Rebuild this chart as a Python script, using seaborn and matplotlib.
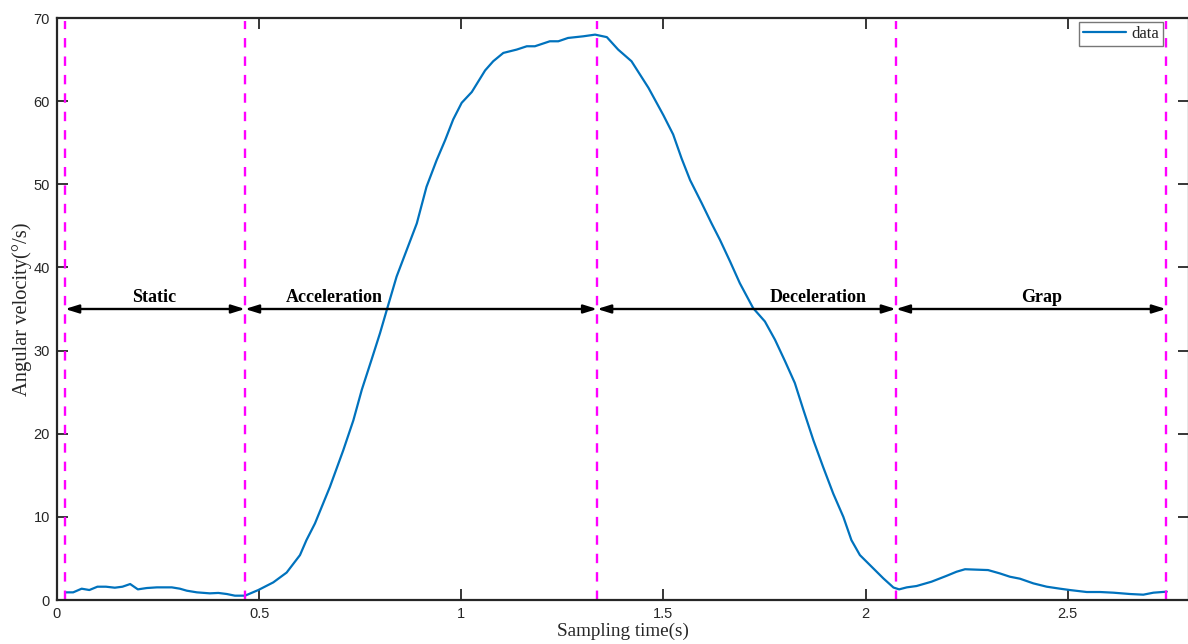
import matplotlib
matplotlib.use("Agg")
import matplotlib.pyplot as plt
import seaborn as sns
import pandas as pd

# ---- data ----
time_s = [0.022, 0.04, 0.061, 0.08, 0.10, 0.121, 0.143, 0.162, 0.181, 0.2,
          0.222, 0.247, 0.284, 0.304, 0.321, 0.346, 0.378, 0.399, 0.42, 0.44,
          0.465, 0.498, 0.535, 0.568, 0.601, 0.617, 0.638, 0.675, 0.708, 0.733,
          0.754, 0.778, 0.799, 0.817, 0.840, 0.865, 0.890, 0.914, 0.939, 0.960,
          0.980, 1.001, 1.026, 1.059, 1.079, 1.104, 1.137, 1.162, 1.182, 1.219,
          1.240, 1.264, 1.302, 1.331, 1.360, 1.388, 1.421, 1.463, 1.50, 1.524,
          1.545, 1.566, 1.595, 1.619, 1.640, 1.665, 1.689, 1.722, 1.751, 1.776,
          1.801, 1.825, 1.846, 1.871, 1.895, 1.920, 1.945, 1.965, 1.986, 2.015,
          2.044, 2.069, 2.083, 2.102, 2.126, 2.163, 2.20, 2.225, 2.246, 2.303,
          2.332, 2.357, 2.382, 2.415, 2.448, 2.481, 2.505, 2.547, 2.580, 2.613,
          2.654, 2.687, 2.712, 2.745]
velocity = [0.92, 0.92, 1.36, 1.2, 1.6, 1.6, 1.48, 1.6, 1.92, 1.28,
            1.44, 1.52, 1.52, 1.36, 1.12, 0.92, 0.8, 0.85, 0.72, 0.52,
            0.52, 1.2, 2.12, 3.3, 5.4, 7.2, 9.2, 13.6, 18.0, 21.6,
            25.3, 28.9, 32.1, 35.1, 38.9, 42.1, 45.3, 49.7, 52.9, 55.3,
            57.8, 59.8, 61.1, 63.7, 64.8, 65.8, 66.2, 66.6, 66.6, 67.2,
            67.2, 67.6, 67.8, 68.0, 67.7, 66.2, 64.8, 61.6, 58.3, 56.0,
            53.1, 50.5, 47.7, 45.3, 43.3, 40.7, 38.1, 35.1, 33.5, 31.3,
            28.7, 26.1, 22.9, 19.2, 16.0, 12.8, 10.0, 7.2, 5.4, 4.0,
            2.6, 1.5, 1.28, 1.52, 1.68, 2.2, 2.9, 3.4, 3.7, 3.6,
            3.2, 2.8, 2.56, 2.0, 1.6, 1.36, 1.2, 0.96, 0.96, 0.88,
            0.72, 0.64, 0.88, 1.0]

phase_bounds = [0.02, 0.465, 1.336, 2.075, 2.743]
phase_names = ["Static", "Acceleration", "Deceleration", "Grap"]
phase_label_x = [0.240, 0.685, 1.882, 2.436]
arrow_level = 35.0
label_level = 35.8

x_ticks = [0, 0.5, 1, 1.5, 2, 2.5]
x_tick_labels = ["0", "0.5", "1", "1.5", "2", "2.5"]
y_ticks = [0, 10, 20, 30, 40, 50, 60, 70]

df = pd.DataFrame({"Sampling time(s)": time_s, "Angular velocity": velocity})

sns.set_style("ticks")
plt.rcParams["font.family"] = ["Liberation Sans", "DejaVu Sans"]

fig = plt.figure(figsize=(11.88, 6.44), dpi=100)
ax = fig.add_axes([57 / 1188, 44 / 644, 1132 / 1188, 582 / 644])

sns.lineplot(data=df, x="Sampling time(s)", y="Angular velocity", ax=ax,
             color="#0072BD", linewidth=1.6, label="data", sort=False)

ax.set_xlim(0, 2.8)
ax.set_ylim(0, 70)

# magenta phase boundaries
ax.vlines(phase_bounds, 0, 69.6, colors="#FF00FF", linewidth=1.7,
          linestyles=[(0, (4.0, 3.8))])

# double arrows and labels
serif = ["Liberation Serif", "DejaVu Serif"]
for i, name in enumerate(phase_names):
    ax.annotate("", xy=(phase_bounds[i + 1], arrow_level), xytext=(phase_bounds[i], arrow_level),
                arrowprops=dict(arrowstyle="<|-|>,head_length=0.8,head_width=0.25",
                                color="black", lw=1.7, shrinkA=0, shrinkB=0))
    ax.text(phase_label_x[i], label_level, name, ha="center", va="baseline",
            fontsize=13, fontweight="bold", family=serif, color="black")

ax.set_xticks(x_ticks)
ax.set_xticklabels(x_tick_labels)
ax.set_yticks(y_ticks)
ax.tick_params(direction="in", length=8, width=1.3, top=True, right=True,
               labelsize=10.5, colors="#262626", pad=5)
ax.tick_params(axis="both", labelcolor="#262626")
for s in ax.spines.values():
    s.set_visible(True)
    s.set_linewidth(1.6)
    s.set_color("#262626")

ax.set_xlabel("Sampling time(s)", fontsize=13.8, family=serif, color="#262626", labelpad=1)
ax.set_ylabel("Angular velocity(°/s)", fontsize=14.8, family=serif, color="#262626", labelpad=1)

leg = ax.legend(loc="upper right", bbox_to_anchor=(0.977, 0.993),
                prop={"family": serif, "size": 12}, frameon=True, fancybox=False,
                handlelength=2.6, handletextpad=0.3, borderpad=0.25, borderaxespad=0)
leg.get_frame().set_edgecolor("#555555")
leg.get_frame().set_linewidth(1.0)

fig.savefig("out.png", dpi=100)
